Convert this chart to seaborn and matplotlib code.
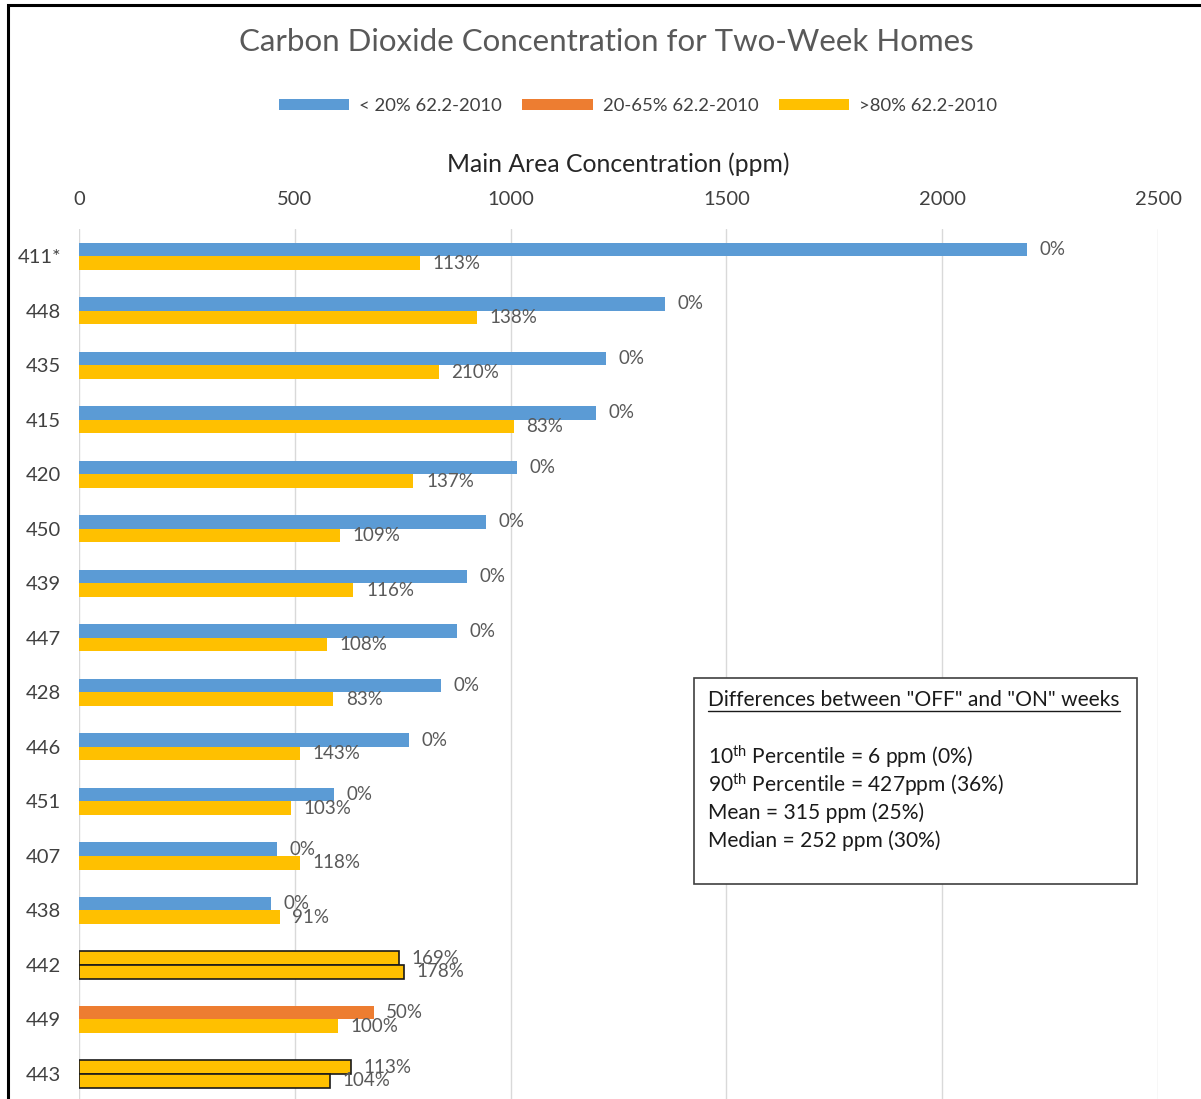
import numpy as np
import pandas as pd
import matplotlib
matplotlib.use('Agg')
import matplotlib.pyplot as plt
import seaborn as sns
from matplotlib.patches import Rectangle, Patch
from matplotlib.lines import Line2D

# ---------------- data ----------------
homes = ['411*', '448', '435', '415', '420', '450', '439', '447', '428',
         '446', '451', '407', '438', '442', '449', '443']
off_ppm = [2197, 1357, 1220, 1199, 1015, 944, 898, 876, 839,
           764, 591, 459, 446, 742, 683, 631]
on_ppm = [791, 921, 834, 1007, 775, 605, 636, 574, 589,
          513, 492, 513, 465, 754, 599, 581]
off_pct = [0, 0, 0, 0, 0, 0, 0, 0, 0, 0, 0, 0, 0, 169, 50, 113]
on_pct = [113, 138, 210, 83, 137, 109, 116, 108, 83, 143, 103, 118, 91, 178, 100, 104]
class_labels = ['< 20% 62.2-2010', '20-65% 62.2-2010', '>80% 62.2-2010']
class_colors = ['#5B9BD5', '#ED7D31', '#FFC000']
outlined_homes = ['442', '443']
x_ticks = [0, 500, 1000, 1500, 2000, 2500]

title = 'Carbon Dioxide Concentration for Two-Week Homes'
x_label = 'Main Area Concentration (ppm)'
box_heading = 'Differences between "OFF" and "ON" weeks'
box_lines = [r'10$^{\mathrm{th}}$ Percentile = 6 ppm (0%)',
             r'90$^{\mathrm{th}}$ Percentile = 427ppm (36%)',
             'Mean = 315 ppm (25%)',
             'Median = 252 ppm (30%)']


def pct_class(p):
    if p < 20:
        return 0
    if p <= 65:
        return 1
    return 2


df = pd.DataFrame({
    'home': homes * 2,
    'ppm': off_ppm + on_ppm,
    'pct': off_pct + on_pct,
    'week': ['OFF'] * len(homes) + ['ON'] * len(homes),
})

# ---------------- style ----------------
sns.set_theme(style='white')
plt.rcParams['font.family'] = ['Lato', 'DejaVu Sans']
plt.rcParams['mathtext.fontset'] = 'custom'
plt.rcParams['mathtext.rm'] = 'Lato'
plt.rcParams['mathtext.it'] = 'Lato:italic'
plt.rcParams['mathtext.bf'] = 'Lato:bold'

W, H = 1201, 1099
fig = plt.figure(figsize=(W / 100, H / 100), dpi=100)
fig.patch.set_facecolor('white')

ax_left, ax_right = 79 / W, 1158 / W
ax_top = 1 - 229 / H
ax = fig.add_axes([ax_left, 0.0, ax_right - ax_left, ax_top])

sns.barplot(data=df, x='ppm', y='home', hue='week', order=homes,
            hue_order=['OFF', 'ON'], orient='h', dodge=True, width=0.5,
            gap=0, saturation=1, legend=False, ax=ax, errorbar=None)

pct_sets = [off_pct, on_pct]
for ci, cont in enumerate(ax.containers):
    for j, bar in enumerate(cont):
        bar.set_facecolor(class_colors[pct_class(pct_sets[ci][j])])
        if homes[j] in outlined_homes:
            bar.set_edgecolor('#1a1a1a')
            bar.set_linewidth(1.2)
        else:
            bar.set_edgecolor('none')
            bar.set_linewidth(0)
    ax.bar_label(cont, labels=[f'{p}%' for p in pct_sets[ci]], padding=9,
                 color='#595959', fontsize=13.5)

ax.set_xlim(0, 2500)
ax.set_ylim(15.46, -0.5)
ax.set_xticks(x_ticks)
ax.xaxis.tick_top()
ax.tick_params(axis='x', length=0, pad=15, labelsize=14.5, labelcolor='#404040')
ax.tick_params(axis='y', length=0, pad=13, labelsize=14.5, labelcolor='#404040')
ax.set_xlabel('')
ax.set_ylabel('')
ax.grid(axis='x', color='#d9d9d9', linewidth=1)
ax.grid(axis='y', visible=False)
ax.set_axisbelow(True)
for s in ax.spines.values():
    s.set_visible(False)

# ---------------- titles / legend ----------------
fig.text(606 / W, 1 - 42 / H, title, ha='center', va='center',
         fontsize=22.5, color='#595959')
fig.text(618 / W, 1 - 164 / H, x_label, ha='center', va='center',
         fontsize=17.8, color='#262626')

handles = [Patch(facecolor=c, edgecolor='none') for c in class_colors]
fig.legend(handles, class_labels, loc='center', bbox_to_anchor=(638 / W, 1 - 106 / H),
           ncol=3, frameon=False, fontsize=13.3, handlelength=3.8, handleheight=0.6,
           handletextpad=0.55, columnspacing=1.1, labelcolor='#404040')

# ---------------- text box ----------------
bx0, bx1 = 694 / W, 1137 / W
by0, by1 = 1 - 884 / H, 1 - 678 / H
fig.add_artist(Rectangle((bx0, by0), bx1 - bx0, by1 - by0, transform=fig.transFigure,
                         facecolor='white', edgecolor='#404040', linewidth=1.2, zorder=5))
tx = 708 / W
head = fig.text(tx, 1 - 700 / H, box_heading, ha='left', va='center',
                fontsize=15.1, color='#1a1a1a', zorder=6)
for k, line in enumerate(box_lines):
    fig.text(tx, 1 - (757 + 28 * k) / H, line, ha='left', va='center',
             fontsize=15.1, color='#1a1a1a', zorder=6)

fig.canvas.draw()
bb = head.get_window_extent(renderer=fig.canvas.get_renderer())
uy = (bb.y0 - 1) / H
fig.add_artist(Line2D([bb.x0 / W, bb.x1 / W], [uy, uy], transform=fig.transFigure,
                      color='#1a1a1a', linewidth=1, zorder=6))

# ---------------- outer frame (cropped at right / bottom) ----------------
fig.add_artist(Rectangle((8 / W, -0.1), 1.2, 1.1 - 5 / H, transform=fig.transFigure,
                         facecolor='none', edgecolor='black', linewidth=2.2, zorder=10))

fig.savefig('out.png', dpi=100, facecolor='white')
